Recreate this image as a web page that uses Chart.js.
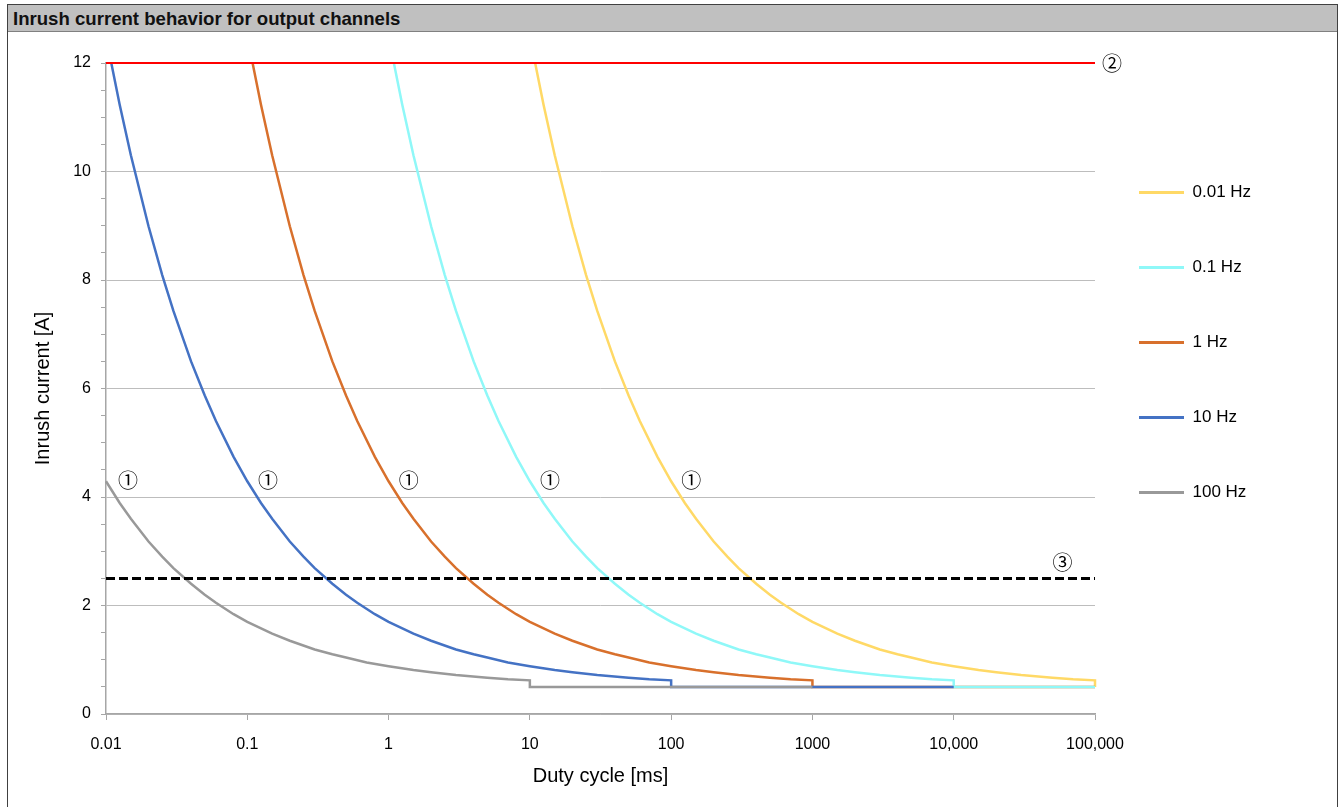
<!DOCTYPE html>
<html>
<head>
<meta charset="utf-8">
<title>Inrush current behavior for output channels</title>
<script src="https://cdn.jsdelivr.net/npm/chart.js@4.4.1/dist/chart.umd.min.js"></script>
<style>
    body { margin: 0; background: #fff; font-family: "Liberation Sans", Arial, sans-serif; }
    .frame { position: absolute; left: 7px; top: 4px; width: 1329px; height: 820px; border: 1px solid #404040; }
    .frame-title { height: 26px; line-height: 27px; background: #c0c0c0; border-bottom: 1px solid #808080; padding-left: 5px; font-weight: bold; font-size: 18.6px; color: #111; }
    .chart-box { position: relative; width: 1329px; height: 775px; }
</style>
</head>
<body>
<div class="frame">
    <div class="frame-title">Inrush current behavior for output channels</div>
    <div class="chart-box"><canvas id="inrush"></canvas></div>
</div>
<script>
    "use strict";

    // Axis ticks (duty cycle in ms, log scale)
    var durationTicks = [0.01, 0.1, 1, 10, 100, 1000, 10000, 100000];
    var durationLabels = ["0.01", "0.1", "1", "10", "100", "1000", "10,000", "100,000"];

    // 100 Hz
    var hz100Time = [0.01, 0.0125, 0.015, 0.02, 0.025, 0.03, 0.04, 0.05, 0.06, 0.08, 0.1, 0.15, 0.2, 0.3, 0.4, 0.5, 0.7, 1, 1.5, 2, 3, 5, 7, 10, 10, 1000];
    var hz100Current = [4.29, 3.89, 3.60, 3.18, 2.90, 2.69, 2.40, 2.20, 2.05, 1.84, 1.70, 1.48, 1.35, 1.19, 1.10, 1.04, 0.95, 0.88, 0.81, 0.77, 0.72, 0.67, 0.64, 0.62, 0.5, 0.5];

    // 10 Hz
    var hz10Time = [0.0109, 0.0125, 0.015, 0.02, 0.025, 0.03, 0.04, 0.05, 0.06, 0.08, 0.1, 0.125, 0.15, 0.2, 0.25, 0.3, 0.4, 0.5, 0.6, 0.8, 1, 1.5, 2, 3, 4, 5, 7, 10, 15, 20, 30, 50, 70, 100, 100, 10000];
    var hz10Current = [12, 11.23, 10.30, 8.99, 8.09, 7.43, 6.50, 5.87, 5.40, 4.74, 4.29, 3.89, 3.60, 3.18, 2.90, 2.69, 2.40, 2.20, 2.05, 1.84, 1.70, 1.48, 1.35, 1.19, 1.10, 1.04, 0.95, 0.88, 0.81, 0.77, 0.72, 0.67, 0.64, 0.62, 0.5, 0.5];

    // 1 Hz
    var hz1Time = [0.109, 0.125, 0.15, 0.2, 0.25, 0.3, 0.4, 0.5, 0.6, 0.8, 1, 1.25, 1.5, 2, 2.5, 3, 4, 5, 6, 8, 10, 15, 20, 30, 40, 50, 70, 100, 150, 200, 300, 500, 700, 1000, 1000, 100000];
    var hz1Current = [12, 11.23, 10.30, 8.99, 8.09, 7.43, 6.50, 5.87, 5.40, 4.74, 4.29, 3.89, 3.60, 3.18, 2.90, 2.69, 2.40, 2.20, 2.05, 1.84, 1.70, 1.48, 1.35, 1.19, 1.10, 1.04, 0.95, 0.88, 0.81, 0.77, 0.72, 0.67, 0.64, 0.62, 0.5, 0.5];

    // 0.1 Hz
    var hz01Time = [1.09, 1.25, 1.5, 2, 2.5, 3, 4, 5, 6, 8, 10, 12.5, 15, 20, 25, 30, 40, 50, 60, 80, 100, 150, 200, 300, 400, 500, 700, 1000, 1500, 2000, 3000, 5000, 7000, 10000, 10000, 100000];
    var hz01Current = [12, 11.23, 10.30, 8.99, 8.09, 7.43, 6.50, 5.87, 5.40, 4.74, 4.29, 3.89, 3.60, 3.18, 2.90, 2.69, 2.40, 2.20, 2.05, 1.84, 1.70, 1.48, 1.35, 1.19, 1.10, 1.04, 0.95, 0.88, 0.81, 0.77, 0.72, 0.67, 0.64, 0.62, 0.5, 0.5];

    // 0.01 Hz
    var hz001Time = [10.9, 12.5, 15, 20, 25, 30, 40, 50, 60, 80, 100, 125, 150, 200, 250, 300, 400, 500, 600, 800, 1000, 1500, 2000, 3000, 4000, 5000, 7000, 10000, 15000, 20000, 30000, 50000, 70000, 100000, 100000];
    var hz001Current = [12, 11.23, 10.30, 8.99, 8.09, 7.43, 6.50, 5.87, 5.40, 4.74, 4.29, 3.89, 3.60, 3.18, 2.90, 2.69, 2.40, 2.20, 2.05, 1.84, 1.70, 1.48, 1.35, 1.19, 1.10, 1.04, 0.95, 0.88, 0.81, 0.77, 0.72, 0.67, 0.64, 0.62, 0.5];

    // Limits: max inrush (red) and nominal (dashed)
    var limitTime = [0.01, 100000];
    var maxCurrent = [12, 12];
    var nominalCurrent = [2.5, 2.5];

    // Circled notes
    var noteText = ["\u2460", "\u2460", "\u2460", "\u2460", "\u2460", "\u2461", "\u2462"];
    var noteX = [0.0143, 0.14, 1.39, 13.9, 139, 132000, 59000];
    var noteY = [4.3, 4.3, 4.3, 4.3, 4.3, 12, 2.8];

    var legendOrder = ["0.01 Hz", "0.1 Hz", "1 Hz", "10 Hz", "100 Hz"];

    Chart.defaults.font.family = '"Liberation Sans", Arial, sans-serif';
    Chart.defaults.color = "#000";

    function curve(label, times, currents, color, width, dash) {
        return {
            label: label,
            data: times.map(function (t, i) { return { x: t, y: currents[i] }; }),
            borderColor: color,
            backgroundColor: color,
            borderWidth: width || 2.5,
            borderDash: dash || [],
            showLine: true,
            pointRadius: 0,
            tension: 0,
            clip: 4
        };
    }

    // Circled numbers next to the curves
    var notesPlugin = {
        id: "notes",
        afterDatasetsDraw: function (chart) {
            var c = chart.ctx, sx = chart.scales.x, sy = chart.scales.y;
            c.save();
            c.font = '20px "Noto Sans CJK JP", "DejaVu Sans", sans-serif';
            c.fillStyle = "#000";
            c.textAlign = "center";
            c.textBaseline = "middle";
            noteText.forEach(function (t, i) {
                c.fillText(t, sx.getPixelForValue(noteX[i]), sy.getPixelForValue(noteY[i]));
            });
            c.restore();
        }
    };

    // Move the legend block (wide item spacing, starts near the plot)
    var legendShift = {
        id: "legendShift",
        afterLayout: function (chart) {
            var lg = chart.legend;
            lg.left = chart.chartArea.right - 14;
            lg.width = 200;
            lg.right = lg.left + lg.width;
            lg.top = 94;
            lg.bottom = lg.top + lg.height;
        }
    };

    var ctx = document.getElementById("inrush").getContext("2d");
    var inrushChart = new Chart(ctx, {
        type: "scatter",
        data: {
            datasets: [
                curve("max", limitTime, maxCurrent, "#ff0000", 2),
                curve("nominal", limitTime, nominalCurrent, "#000000", 3, [9, 4]),
                curve("100 Hz", hz100Time, hz100Current, "#999999"),
                curve("10 Hz", hz10Time, hz10Current, "#4472c4"),
                curve("0.1 Hz", hz01Time, hz01Current, "#8ff8f8"),
                curve("1 Hz", hz1Time, hz1Current, "#d8702c"),
                curve("0.01 Hz", hz001Time, hz001Current, "#ffd966")
            ]
        },
        options: {
            responsive: true,
            maintainAspectRatio: false,
            animation: false,
            layout: { padding: { top: 31, right: 142, left: 0, bottom: 0 } },
            plugins: {
                tooltip: { enabled: false },
                legend: {
                    position: "right",
                    align: "start",
                    maxWidth: 100,
                    labels: {
                        boxWidth: 45,
                        boxHeight: 3,
                        padding: 58,
                        color: "#000",
                        font: { size: 17 },
                        generateLabels: function (chart) {
                            return Chart.defaults.plugins.legend.labels.generateLabels(chart).map(function (item) {
                                item.lineWidth = 0;
                                return item;
                            });
                        },
                        filter: function (item) { return legendOrder.indexOf(item.text) >= 0; },
                        sort: function (a, b) { return legendOrder.indexOf(a.text) - legendOrder.indexOf(b.text); }
                    }
                }
            },
            scales: {
                x: {
                    type: "logarithmic",
                    min: 0.01,
                    max: 100000,
                    afterBuildTicks: function (s) {
                        s.ticks = durationTicks.map(function (v) { return { value: v }; });
                    },
                    afterFit: function (s) { s.height = 93; },
                    border: { color: "#a6a6a6", width: 1.5 },
                    grid: { drawOnChartArea: false, tickLength: 6, tickColor: "#a6a6a6" },
                    ticks: {
                        autoSkip: false,
                        maxRotation: 0,
                        padding: 15,
                        color: "#000",
                        font: { size: 16 },
                        callback: function (v, i) { return durationLabels[i]; }
                    },
                    title: { display: true, text: "Duty cycle [ms]", color: "#000", font: { size: 20 }, padding: { bottom: 19 } }
                },
                y: {
                    min: 0,
                    max: 12,
                    afterFit: function (s) { s.width = 98; },
                    border: { color: "#a6a6a6", width: 1.5 },
                    grid: {
                        color: function (c) { return c.tick && c.tick.value % 2 === 0 ? "#bdbdbd" : "rgba(0,0,0,0)"; },
                        tickColor: "#a6a6a6",
                        tickLength: 5
                    },
                    ticks: {
                        stepSize: 0.5,
                        autoSkip: false,
                        padding: 10,
                        color: "#000",
                        font: { size: 16 },
                        callback: function (v) { return v % 2 === 0 ? String(v) : ""; }
                    },
                    title: { display: true, text: "Inrush current [A]", color: "#000", font: { size: 20 }, padding: { top: 23 } }
                }
            }
        },
        plugins: [notesPlugin, legendShift]
    });
</script>
</body>
</html>
